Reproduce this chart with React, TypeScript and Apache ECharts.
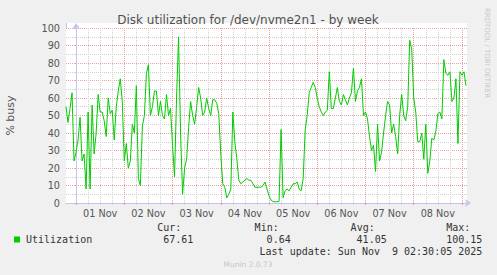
import React, { useEffect, useRef } from "react";
import * as echarts from "echarts";

// Hourly % busy readings (hour 0 = 00:00 of each day)
const oct31 = [55, 46, 54, 63, 24]; // 19:00 – 23:00
const nov01 = [29, 36, 49, 24, 28, 8, 52, 8, 56, 28, 40, 62, 52, 52, 47, 38, 60, 51, 53, 36, 55, 64, 71, 58];
const nov02 = [24, 34, 20, 24, 45, 40, 67, 14, 10, 44, 50, 74, 79, 50, 55, 64, 64, 50, 58, 50, 48, 62, 50, 54];
const nov03 = [33, 15, 60, 95, 40, 5, 20, 25, 43, 58, 50, 45, 55, 66, 60, 50, 52, 60, 54, 50, 59, 59, 57, 51];
const nov04 = [28, 11, 9, 3, 5, 8, 52, 35, 25, 13, 11, 12, 13, 14, 13, 13, 11, 9, 9, 9, 9, 10, 12, 8];
const nov05 = [4, 1.7, 0.8, 0.7, 0.7, 1, 42, 3, 7, 8, 7, 9, 11, 11, 12, 8, 7, 14, 42, 50, 63, 66, 69, 66];
const nov06 = [60, 55, 52, 50, 52, 53, 75, 54, 54, 60, 66, 58, 56, 62, 59, 56, 60, 63, 77, 58, 64, 66, 71, 50];
const nov07 = [52, 48, 38, 30, 33, 18, 45, 24, 29, 40, 50, 58, 56, 40, 45, 38, 28, 50, 62, 50, 47, 55, 93, 88];
const nov08 = [60, 52, 35, 35, 40, 25, 45, 17, 24, 37, 36, 41, 51, 52, 48, 82, 74, 73, 75, 58, 60, 71, 34, 75];
const nov09 = [73, 75, 67]; // 00:00 – 02:00

const dayLabels = ["01 Nov", "02 Nov", "03 Nov", "04 Nov", "05 Nov", "06 Nov", "07 Nov", "08 Nov"];
const legendHeaders = ["Cur:", "Min:", "Avg:", "Max:"];
const legendValues = ["67.61", "0.64", "41.05", "100.15"];
const seriesName = "Utilization";
const titleText = "Disk utilization for /dev/nvme2n1 - by week";
const lastUpdate = "Last update: Sun Nov  9 02:30:05 2025";
const yAxisName = "% busy";

const X_MIN = -5; // Oct 31 19:00, in hours from Nov 1 00:00
const X_MAX = 194.5; // Nov 9 02:30

const RED = "#E8A0A0";
const GREY = "#D0D0D0";
const AXIS = "#C4C4F0";

export default function App() {
  const ref = useRef<HTMLDivElement>(null);

  useEffect(() => {
    if (!ref.current) return;
    const chart = echarts.init(ref.current, undefined, { renderer: "svg" });

    const data: [number, number][] = [];
    oct31.forEach((v, i) => data.push([X_MIN + i, v]));
    [nov01, nov02, nov03, nov04, nov05, nov06, nov07, nov08, nov09].forEach((arr, d) =>
      arr.forEach((v, h) => data.push([d * 24 + h, v]))
    );

    const midnights: number[] = [];
    const sixHours: number[] = [];
    for (let h = 0; h <= X_MAX; h += 6) {
      if (h % 24 === 0) midnights.push(h);
      else sixHours.push(h);
    }
    const labelHours = dayLabels.map((_, i) => i * 24 + 12);

    const mono = "DejaVu Sans Mono";
    const sans = "DejaVu Sans";
    const legendY1 = 227.5;
    const legendY2 = 239.5;
    const valueRights = [193.3, 290.7, 386.7, 482.3];

    const graphic: any[] = [
      { type: "rect", z: -1, shape: { x: 66, y: 23, width: 401, height: 5 }, style: { fill: "#fff" } },
      { type: "line", z: 5, shape: { x1: 66.5, y1: 28, x2: 66.5, y2: 23 }, style: { stroke: AXIS, lineWidth: 1 } },
      {
        type: "text", x: 248, y: 19.5,
        style: { text: titleText, font: `12px "${sans}"`, fill: "#505050", align: "center", verticalAlign: "middle", textAlign: "center", textVerticalAlign: "middle" },
      },
      {
        type: "text", x: 10.5, y: 115.5, rotation: Math.PI / 2,
        style: { text: yAxisName, font: `11px "${sans}"`, fill: "#555", align: "center", verticalAlign: "middle", textAlign: "center", textVerticalAlign: "middle" },
      },
      {
        type: "text", x: 487, y: 53, rotation: -Math.PI / 2,
        style: { text: "RRDTOOL / TOBI OETIKER", font: `7px "${sans}"`, fill: "#C8C8C8", align: "center", verticalAlign: "middle", textAlign: "center", textVerticalAlign: "middle" },
      },
      { type: "rect", shape: { x: 14, y: 236.5, width: 6, height: 6 }, style: { fill: "#00CC00" } },
      {
        type: "text", x: 26, y: legendY2,
        style: { text: seriesName, font: `10px "${mono}"`, fill: "#333", align: "left", verticalAlign: "middle", textAlign: "left", textVerticalAlign: "middle" },
      },
      {
        type: "text", x: 482.3, y: 251.7,
        style: { text: lastUpdate, font: `10px "${mono}"`, fill: "#333", align: "right", verticalAlign: "middle", textAlign: "right", textVerticalAlign: "middle", whiteSpace: "pre" },
      },
      {
        type: "text", x: 248, y: 264,
        style: { text: "Munin 2.0.73", font: `7.5px "${sans}"`, fill: "#C8C8C8", align: "center", verticalAlign: "middle", textAlign: "center", textVerticalAlign: "middle" },
      },
    ];
    legendHeaders.forEach((t, i) => {
      graphic.push({
        type: "text", x: valueRights[i] - 12, y: legendY1,
        style: { text: t, font: `10px "${mono}"`, fill: "#333", align: "right", verticalAlign: "middle", textAlign: "right", textVerticalAlign: "middle" },
      });
      graphic.push({
        type: "text", x: valueRights[i], y: legendY2,
        style: { text: legendValues[i], font: `10px "${mono}"`, fill: "#333", align: "right", verticalAlign: "middle", textAlign: "right", textVerticalAlign: "middle" },
      });
    });

    const option: any = {
      animation: false,
      backgroundColor: "#F0F0F0",
      textStyle: { fontFamily: sans },
      grid: { left: 66, top: 28, width: 401, height: 175, show: true, backgroundColor: "#fff", borderWidth: 0 },
      xAxis: [
        {
          type: "value",
          min: X_MIN,
          max: X_MAX,
          position: "bottom",
          axisLine: { show: true, lineStyle: { color: AXIS }, symbol: ["none", "arrow"], symbolSize: [6, 6], symbolOffset: [0, 4] },
          axisTick: { show: true, length: 2, customValues: sixHours, lineStyle: { color: GREY } },
          axisLabel: {
            show: true,
            customValues: labelHours,
            color: "#555",
            fontSize: 9.7,
            fontFamily: sans,
            margin: 5,
            formatter: (v: number) => dayLabels[Math.round((v - 12) / 24)] ?? "",
          },
          splitLine: { show: true, lineStyle: { color: GREY, type: [1, 1], width: 1 } },
        },
        {
          type: "value",
          min: X_MIN,
          max: X_MAX,
          position: "bottom",
          axisLine: { show: false },
          axisTick: { show: true, length: 2, customValues: midnights, lineStyle: { color: RED } },
          axisLabel: { show: false },
          splitLine: { show: true, lineStyle: { color: RED, type: [1, 1], width: 1 } },
        },
      ],
      yAxis: {
        type: "value",
        min: 0,
        max: 100,
        interval: 10,
        axisLine: { show: true, lineStyle: { color: AXIS }, symbol: ["none", "arrow"], symbolSize: [6, 6], symbolOffset: [0, 5] },
        axisTick: { show: true, length: 2, lineStyle: { color: RED } },
        minorTick: { show: true, splitNumber: 2, length: 2, lineStyle: { color: GREY } },
        axisLabel: { color: "#555", fontSize: 9.7, fontFamily: sans, margin: 6 },
        splitLine: { show: true, lineStyle: { color: RED, type: [1, 1], width: 1 } },
        minorSplitLine: { show: true, lineStyle: { color: GREY, type: [1, 1], width: 1 } },
      },
      series: [
        {
          type: "line",
          name: seriesName,
          data,
          showSymbol: false,
          symbol: "none",
          silent: true,
          z: 3,
          lineStyle: { color: "#00CC00", width: 1 },
        },
      ],
      graphic,
    };

    chart.setOption(option);
    return () => chart.dispose();
  }, []);

  return (
    <div
      ref={ref}
      style={{ position: "fixed", left: 0, top: 0, width: 497, height: 275, background: "#F0F0F0" }}
    />
  );
}
